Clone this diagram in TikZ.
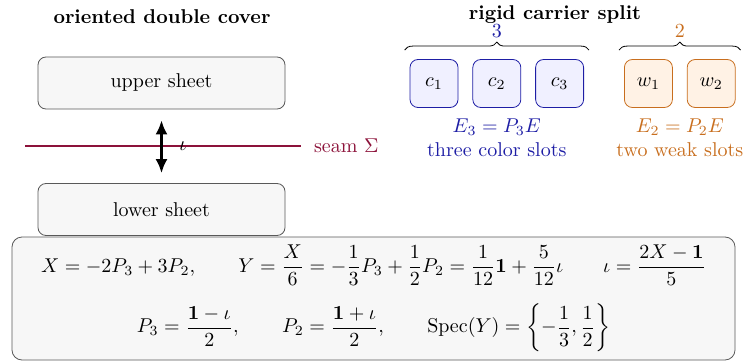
\documentclass[tikz,border=0pt]{standalone}
\usepackage{amsmath, amssymb}
\usepackage{tikz}
\usetikzlibrary{positioning, arrows.meta, decorations.pathreplacing, calc}
\definecolor{seam-red}{RGB}{140,18,58}
\definecolor{slot-blue}{RGB}{30,30,165}
\definecolor{slot-orange}{RGB}{200,110,30}

\begin{document}
\begin{tikzpicture}[
    x=0.5pt, y=-0.5pt,
    node distance=7pt and 7pt,
    heading/.style={font=\bfseries},
    sheet/.style={rectangle, draw=black!65, fill=black!3, rounded corners=4pt, minimum width=123.5pt, minimum height=26pt},
    panel/.style={sheet, rounded corners=5pt, minimum width=361.5pt, minimum height=61.5pt, align=center},
    slot/.style={rectangle, rounded corners=4pt, minimum width=24pt, minimum height=24pt, inner sep=0pt},
    color slot/.style={slot, draw=slot-blue, fill=blue!6},
    weak slot/.style={slot, draw=slot-orange, fill=orange!10},
    carrier brace/.style={decorate, decoration={brace, amplitude=4pt}},
    arrow/.style={<->, very thick, >={Latex[length=7pt, width=6pt]}}
]
\useasboundingbox (0,0) rectangle (747,363);

% Double cover
\node[heading] (covertitle) at (162,17) {oriented double cover};
\node[sheet] (upper) at (161.5,83) {upper sheet};
\node[sheet] (lower) at (161.5,209.5) {lower sheet};

% Seam
\coordinate (seamL) at (25,146);
\coordinate (seamR) at (301,146);
\draw[seam-red, line width=1.4pt] (seamL) -- (seamR);
\node[seam-red, right=3pt of seamR] (seamlabel) {seam $\Sigma$};

\draw[arrow, shorten <=5.5pt, shorten >=5pt] (upper) -- (lower) node[midway, right=5pt] {$\iota$};

% Carrier split
\node[heading] (splittitle) at (555,15) {rigid carrier split};
\node[color slot] (c1) at (434,83.5) {$c_1$};
\node[color slot, right=of c1] (c2) {$c_2$};
\node[color slot, right=of c2] (c3) {$c_3$};
\node[weak slot, right=20pt of c3] (w1) {$w_1$};
\node[weak slot, right=of w1] (w2) {$w_2$};

\draw[carrier brace] ($(c1.north west)+(-5,-9)$) -- ($(c3.north east)+(5,-9)$) node[midway, above=3pt, slot-blue] (threelabel) {$3$};
\draw[carrier brace] ($(w1.north west)+(-5,-9)$) -- ($(w2.north east)+(5,-9)$) node[midway, above=3pt, slot-orange] (twolabel) {$2$};

\coordinate (wmid) at ($(w1.south)!0.5!(w2.south)$);
\node[slot-blue, align=center, below=2pt of c2] (colorlabel) {$E_3 = P_3E$\\three color slots};
\node[slot-orange, align=center, below=2pt of wmid] (weaklabel) {$E_2 = P_2E$\\two weak slots};

% Relations
\node[panel] (relations) at (373.5,298.5) {
    $\displaystyle X = -2P_3 + 3P_2, \qquad Y = \frac{X}{6} = -\frac{1}{3}P_3 + \frac{1}{2}P_2 = \frac{1}{12}\mathbf{1} + \frac{5}{12}\iota \qquad \iota = \frac{2X-\mathbf{1}}{5}$\\[8pt]
    $\displaystyle P_3 = \frac{\mathbf{1}-\iota}{2}, \qquad P_2 = \frac{\mathbf{1}+\iota}{2}, \qquad \operatorname{Spec}(Y) = \left\{-\frac{1}{3}, \frac{1}{2}\right\}$
};

\end{tikzpicture}
\end{document}
